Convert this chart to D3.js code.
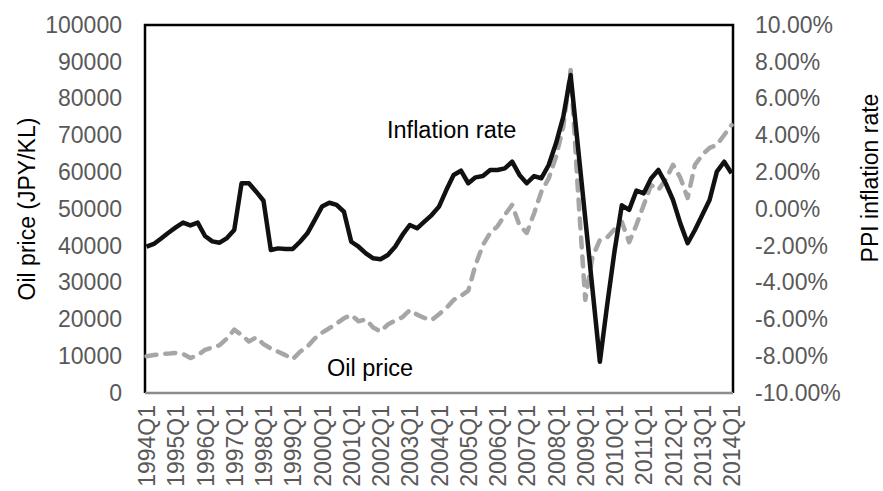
<!DOCTYPE html>
<html>
<head>
<meta charset="utf-8">
<script src="https://cdn.jsdelivr.net/npm/d3@7"></script>
<style>
  body { margin: 0; background: #fff; }
  text { font-family: "Liberation Sans", Arial, sans-serif; }
</style>
</head>
<body>
<svg id="chart" width="883" height="491"></svg>
<script>
// quarterly categories, 1994Q1 .. 2014Q1
let quarters = [];
d3.range(1994, 2015).forEach(function(y) {
  [1, 2, 3, 4].forEach(function(q) {
    if (y < 2014 || q === 1) quarters.push(y + "Q" + q);
  });
});

let tickLabels = ["1994Q1", "1995Q1", "1996Q1", "1997Q1", "1998Q1", "1999Q1", "2000Q1",
  "2001Q1", "2002Q1", "2003Q1", "2004Q1", "2005Q1", "2006Q1", "2007Q1", "2008Q1",
  "2009Q1", "2010Q1", "2011Q1", "2012Q1", "2013Q1", "2014Q1"];

// Oil price, JPY/KL (left axis)
let oilPrice = [
  10000, 10300, 10600, 10700, 10900, 10600, 9500, 10300, 11700, 12400,
  13000, 14800, 17200, 15800, 14000, 15100, 13300, 12100, 11200, 10300,
  9200, 11200, 12600, 14800, 16400, 17600, 18900, 20300, 21200, 19500,
  20000, 17800, 16700, 18600, 19700, 20600, 22500, 21300, 20400, 19800,
  21400, 23100, 25300, 26400, 27800, 34800, 40200, 43500, 45300, 48400,
  51100, 45600, 43500, 48800, 54700, 58300, 64200, 72400, 87800, 55000,
  25300, 37000, 41600, 42300, 44500, 46500, 41000, 45700, 51100, 56500,
  55200, 58000, 62000, 58500, 53000, 62000, 64700, 66600, 67400, 70100,
  72800
];

// PPI inflation rate, % (right axis)
let inflation = [
  -2.05, -1.90, -1.60, -1.29, -1.00, -0.74, -0.89, -0.74, -1.47, -1.76,
  -1.83, -1.58, -1.14, 1.40, 1.40, 0.94, 0.45, -2.23, -2.14, -2.17,
  -2.17, -1.78, -1.32, -0.60, 0.13, 0.34, 0.22, -0.15, -1.78, -2.05,
  -2.41, -2.68, -2.73, -2.50, -2.05, -1.41, -0.87, -1.05, -0.69, -0.33,
  0.13, 1.03, 1.85, 2.08, 1.40, 1.72, 1.79, 2.12, 2.12, 2.21,
  2.57, 1.85, 1.40, 1.79, 1.67, 2.39, 3.57, 5.02, 7.28, 3.40,
  -0.50, -4.40, -8.30, -5.20, -2.30, 0.20, -0.05, 1.00, 0.85, 1.66,
  2.12, 1.40, 0.49, -0.78, -1.86, -1.14, -0.33, 0.49, 2.03, 2.57,
  1.94
];

let leftTicks = d3.range(0, 100001, 10000);
let rightTicks = d3.range(-10, 10.01, 2);

let margin = { top: 25, right: 150, bottom: 98, left: 145 },
    width = 883,
    height = 491,
    plotW = width - margin.left - margin.right,
    plotH = height - margin.top - margin.bottom;

let svg = d3.select("#chart");

let x = d3.scalePoint()
    .domain(quarters)
    .range([margin.left + 1.5, margin.left + plotW - 1.5]);

let yL = d3.scaleLinear().domain([0, 100000]).range([margin.top + plotH, margin.top]);
let yR = d3.scaleLinear().domain([-10, 10]).range([margin.top + plotH, margin.top]);

let tickColor = "#595959";

// left axis
let gL = svg.append("g")
    .attr("transform", "translate(" + margin.left + ",0)")
    .call(d3.axisLeft(yL).tickValues(leftTicks).tickSize(0).tickPadding(23).tickFormat(d3.format("d")));
gL.select(".domain").remove();
gL.selectAll("text").style("font-size", "23px").style("fill", tickColor)
    .style("font-family", "'Liberation Sans', Arial, sans-serif");

// right axis
let gR = svg.append("g")
    .attr("transform", "translate(" + (margin.left + plotW) + ",0)")
    .call(d3.axisRight(yR).tickValues(rightTicks).tickSize(0).tickPadding(22)
      .tickFormat(function(d) { return d.toFixed(2) + "%"; }));
gR.select(".domain").remove();
gR.selectAll("text").style("font-size", "23px").style("fill", tickColor)
    .style("font-family", "'Liberation Sans', Arial, sans-serif");

// bottom axis with rotated labels
let gX = svg.append("g")
    .attr("transform", "translate(0," + (margin.top + plotH) + ")")
    .call(d3.axisBottom(x).tickValues(tickLabels).tickSize(0));
gX.select(".domain").remove();
gX.selectAll("text")
    .attr("transform", "rotate(-90)")
    .attr("x", -12)
    .attr("y", 0)
    .attr("dy", "0.35em")
    .attr("text-anchor", "end")
    .style("font-size", "23px")
    .style("fill", tickColor)
    .style("font-family", "'Liberation Sans', Arial, sans-serif");

// plot frame
svg.append("path")
    .attr("d", "M" + margin.left + "," + (margin.top + plotH) + "V" + margin.top +
      "H" + (margin.left + plotW) + "V" + (margin.top + plotH))
    .attr("fill", "none")
    .attr("stroke", "#000")
    .attr("stroke-width", 2.5);
svg.append("line")
    .attr("x1", margin.left).attr("x2", margin.left + plotW)
    .attr("y1", margin.top + plotH).attr("y2", margin.top + plotH)
    .attr("stroke", "#8c8c8c")
    .attr("stroke-width", 2.5);

// lines
let oilLine = d3.line()
    .x(function(d, i) { return x(quarters[i]); })
    .y(function(d) { return yL(d); });

let inflLine = d3.line()
    .x(function(d, i) { return x(quarters[i]); })
    .y(function(d) { return yR(d); });

svg.append("path")
    .datum(oilPrice)
    .attr("d", oilLine)
    .attr("fill", "none")
    .attr("stroke", "#a6a6a6")
    .attr("stroke-width", 4.5)
    .attr("stroke-dasharray", "10 9")
    .attr("stroke-linecap", "round")
    .attr("stroke-linejoin", "round");

svg.append("path")
    .datum(inflation)
    .attr("d", inflLine)
    .attr("fill", "none")
    .attr("stroke", "#111")
    .attr("stroke-width", 4.5)
    .attr("stroke-linejoin", "round");

// series labels
svg.append("text")
    .attr("x", 387).attr("y", 138)
    .style("font-size", "23.5px")
    .style("fill", "#000")
    .text("Inflation rate");

svg.append("text")
    .attr("x", 327).attr("y", 376)
    .style("font-size", "23.5px")
    .style("fill", "#000")
    .text("Oil price");

// axis titles
svg.append("text")
    .attr("transform", "translate(35,209) rotate(-90)")
    .attr("text-anchor", "middle")
    .style("font-size", "23px")
    .style("fill", "#000")
    .text("Oil price (JPY/KL)");

svg.append("text")
    .attr("transform", "translate(878,178) rotate(-90)")
    .attr("text-anchor", "middle")
    .style("font-size", "23px")
    .style("fill", "#000")
    .text("PPI inflation rate");
</script>
</body>
</html>
